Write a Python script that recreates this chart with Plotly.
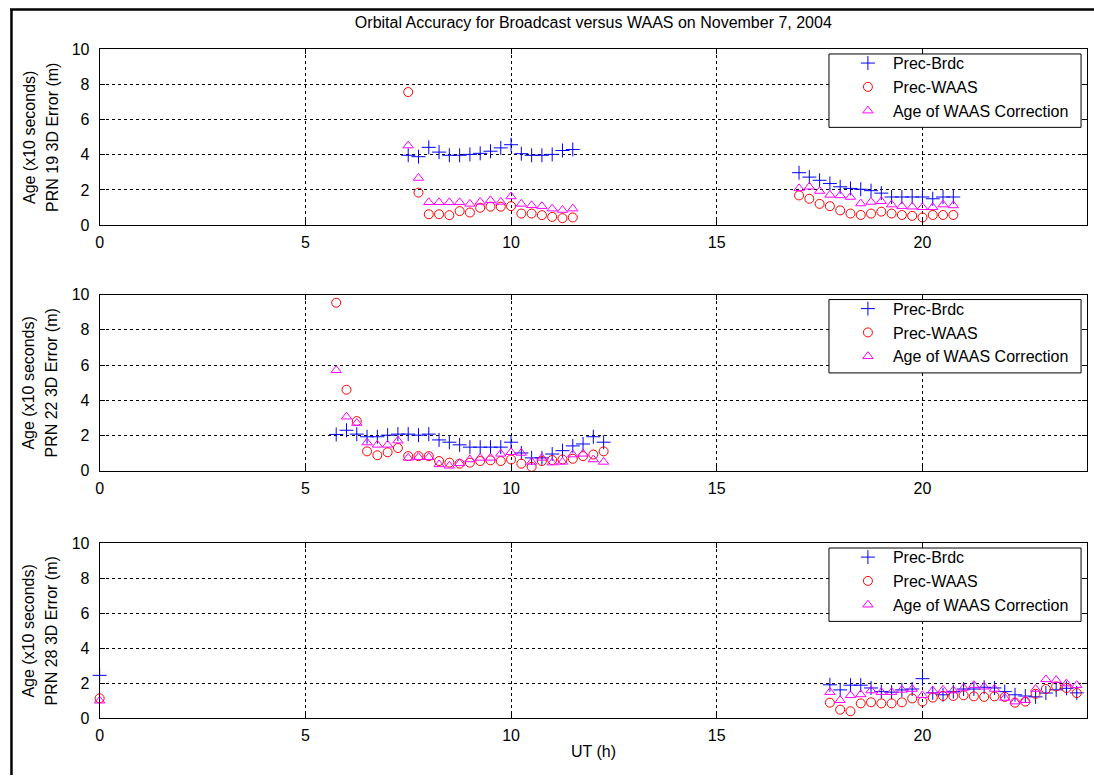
import plotly.graph_objects as go

W, H = 1094, 784
FONT = "Liberation Sans, Arial, sans-serif"

# ---------------- data ----------------
# PRN 19
ut_19 = [7.5, 7.75, 8.0, 8.25, 8.5, 8.75, 9.0, 9.25, 9.5, 9.75, 10.0, 10.25, 10.5, 10.75, 11.0, 11.25, 11.5,
         17.0, 17.25, 17.5, 17.75, 18.0, 18.25, 18.5, 18.75, 19.0, 19.25, 19.5, 19.75, 20.0, 20.25, 20.5, 20.75]
brdc_19 = [3.97, 3.89, 4.42, 4.15, 3.97, 3.97, 4.02, 4.08, 4.20, 4.39, 4.57, 4.06, 3.97, 3.97, 4.02, 4.24, 4.30,
           2.98, 2.73, 2.55, 2.37, 2.18, 2.09, 2.04, 1.96, 1.82, 1.60, 1.60, 1.60, 1.60, 1.50, 1.60, 1.60]
waas_19 = [7.56, 1.85, 0.62, 0.62, 0.57, 0.80, 0.72, 0.99, 1.05, 1.05, 1.08, 0.66, 0.66, 0.57, 0.47, 0.40, 0.44,
           1.69, 1.50, 1.21, 1.08, 0.84, 0.66, 0.58, 0.66, 0.77, 0.66, 0.58, 0.53, 0.44, 0.58, 0.58, 0.58]
age_19 = [4.52, 2.68, 1.30, 1.30, 1.30, 1.30, 1.21, 1.32, 1.41, 1.32, 1.63, 1.21, 1.13, 1.08, 0.94, 0.86, 0.94,
          2.09, 2.18, 1.94, 1.72, 1.69, 1.60, 1.23, 1.32, 1.36, 1.17, 1.08, 1.05, 1.02, 1.02, 1.17, 1.12]

# PRN 22
ut_22 = [5.75, 6.0, 6.25, 6.5, 6.75, 7.0, 7.25, 7.5, 7.75, 8.0, 8.25, 8.5, 8.75, 9.0, 9.25, 9.5, 9.75,
         10.0, 10.25, 10.5, 10.75, 11.0, 11.25, 11.5, 11.75, 12.0, 12.25]
brdc_22 = [2.06, 2.30, 2.08, 1.93, 1.93, 2.02, 2.08, 2.08, 2.02, 2.08, 1.75, 1.62, 1.47, 1.34, 1.34, 1.34, 1.34,
           1.62, 1.01, 0.73, 0.73, 0.95, 1.14, 1.41, 1.52, 1.93, 1.62]
waas_22 = [9.54, 4.60, 2.82, 1.10, 0.88, 1.05, 1.29, 0.83, 0.83, 0.83, 0.55, 0.46, 0.40, 0.46, 0.55, 0.59, 0.55,
           0.64, 0.40, 0.22, 0.55, 0.61, 0.64, 0.68, 0.83, 0.92, 1.10]
age_22 = [5.71, 3.07, 2.71, 1.60, 1.47, 1.47, 1.71, 0.73, 0.77, 0.77, 0.36, 0.28, 0.42, 0.64, 0.73, 0.73, 0.96,
          1.05, 1.01, 0.50, 0.73, 0.46, 0.50, 0.92, 0.96, 0.64, 0.50]

# PRN 28
ut_28 = [0.0, 17.75, 18.0, 18.25, 18.5, 18.75, 19.0, 19.25, 19.5, 19.75, 20.0, 20.25, 20.5, 20.75,
         21.0, 21.25, 21.5, 21.75, 22.0, 22.25, 22.5, 22.75, 23.0, 23.25, 23.5, 23.75]
brdc_28 = [2.45, 1.91, 1.62, 1.89, 1.89, 1.73, 1.52, 1.49, 1.62, 1.67, 2.26, 1.45, 1.34, 1.52,
           1.67, 1.67, 1.77, 1.73, 1.52, 1.34, 1.27, 1.22, 1.44, 1.62, 1.71, 1.45]
waas_28 = [1.14, 0.89, 0.49, 0.40, 0.85, 0.91, 0.85, 0.85, 0.91, 1.13, 0.95, 1.18, 1.27, 1.27,
           1.31, 1.25, 1.22, 1.25, 1.22, 0.89, 0.95, 1.40, 1.67, 1.82, 1.73, 1.44]
age_28 = [1.00, 1.49, 1.03, 1.31, 1.36, 1.58, 1.49, 1.49, 1.62, 1.67, 1.31, 1.58, 1.62, 1.58,
          1.73, 1.89, 1.80, 1.67, 1.16, 0.95, 1.03, 1.67, 2.22, 2.18, 1.98, 1.89]

prn_labels = ["PRN 19 3D Error (m)", "PRN 22 3D Error (m)", "PRN 28 3D Error (m)"]
age_label = "Age (x10 seconds)"
series_names = ["Prec-Brdc", "Prec-WAAS", "Age of WAAS Correction"]
x_ticks = [0, 5, 10, 15, 20]
y_ticks = [0, 2, 4, 6, 8, 10]
title_text = "Orbital Accuracy for Broadcast versus WAAS on November 7, 2004"
x_title = "UT (h)"

panels = [(ut_19, brdc_19, waas_19, age_19),
          (ut_22, brdc_22, waas_22, age_22),
          (ut_28, brdc_28, waas_28, age_28)]

# ---------------- layout helpers ----------------
def fx(px):
    return px / W

def fy(py):
    return 1 - py / H

AX_L, AX_R = 96, 1087
panel_px = [(42, 222), (293, 473), (547, 726)]  # top, bottom pixel rows

styles = [
    dict(symbol="cross-thin", size=10, color="#0000FF", line=dict(color="#0000FF", width=1)),
    dict(symbol="circle-open", size=9, color="#FF0000", line=dict(color="#FF0000", width=1)),
    dict(symbol="triangle-up-open", size=9, color="#FF00FF", line=dict(color="#FF00FF", width=1)),
]

fig = go.Figure()
layout = dict(
    width=W, height=H, autosize=False,
    margin=dict(l=0, r=0, t=0, b=0),
    paper_bgcolor="white", plot_bgcolor="white",
    font=dict(family=FONT, size=16, color="black"),
    showlegend=True,
    title=dict(text=title_text, x=fx((AX_L + AX_R) / 2), xanchor="center",
               y=fy(22), yanchor="middle", xref="paper", yref="container",
               font=dict(family=FONT, size=16, color="black")),
)

shapes = []
annotations = []

for i, (t, b, w, a) in enumerate(panels):
    k = "" if i == 0 else str(i + 1)
    top, bot = panel_px[i]
    leg = "legend" + k
    for name, vals, st in zip(series_names, (b, w, a), styles):
        fig.add_trace(go.Scatter(
            x=t, y=vals, mode="markers", name=name, marker=st,
            xaxis="x" + k, yaxis="y" + k, legend=leg, cliponaxis=False,
        ))
    axcommon = dict(showline=True, linecolor="black", linewidth=1, mirror="ticks",
                    ticks="inside", ticklen=5, tickcolor="black", tickwidth=1,
                    showgrid=True, gridcolor="black", gridwidth=1, griddash="3px,3px",
                    zeroline=False, tickfont=dict(family=FONT, size=16, color="black"))
    layout["xaxis" + k] = dict(axcommon, domain=[fx(AX_L), fx(AX_R)], range=[0, 24],
                               tickvals=x_ticks, anchor="y" + k, ticklabelstandoff=3)
    layout["yaxis" + k] = dict(axcommon, domain=[fy(bot), fy(top)], range=[0, 10],
                               tickvals=y_ticks, anchor="x" + k, ticklabelstandoff=6)
    # legend box
    bx0, bx1, by0, by1 = 828, 1081, top + 5, top + 80
    shapes.append(dict(type="rect", xref="paper", yref="paper",
                       x0=fx(bx0), x1=fx(bx1), y0=fy(by1), y1=fy(by0),
                       line=dict(color="black", width=1), fillcolor="white", layer="above"))
    layout[leg] = dict(x=fx(bx0 + 14), y=fy(by0 - 8), xanchor="left", yanchor="top",
                       xref="paper", yref="paper", bgcolor="rgba(0,0,0,0)", borderwidth=0,
                       font=dict(family=FONT, size=16, color="black"), itemwidth=40,
                       tracegroupgap=0)
    mid = (top + bot) / 2
    annotations.append(dict(text=age_label, x=fx(25), y=fy(mid), xref="paper", yref="paper",
                            textangle=-90, showarrow=False, xanchor="center", yanchor="middle",
                            font=dict(family=FONT, size=16, color="black")))
    annotations.append(dict(text=prn_labels[i], x=fx(48), y=fy(mid), xref="paper", yref="paper",
                            textangle=-90, showarrow=False, xanchor="center", yanchor="middle",
                            font=dict(family=FONT, size=16, color="black")))

annotations.append(dict(text=x_title, x=fx((AX_L + AX_R) / 2), y=fy(760), xref="paper", yref="paper",
                        showarrow=False, xanchor="center", yanchor="middle",
                        font=dict(family=FONT, size=16, color="black")))

# outer frame (left and top edges)
shapes.append(dict(type="line", xref="paper", yref="paper", x0=fx(7.5), x1=fx(7.5), y0=0, y1=fy(1),
                   line=dict(color="black", width=2.5)))
shapes.append(dict(type="line", xref="paper", yref="paper", x0=fx(6), x1=1, y0=fy(1.5), y1=fy(1.5),
                   line=dict(color="black", width=2.5)))

layout["shapes"] = shapes
layout["annotations"] = annotations
fig.update_layout(**layout)
fig.write_html("out.html")
